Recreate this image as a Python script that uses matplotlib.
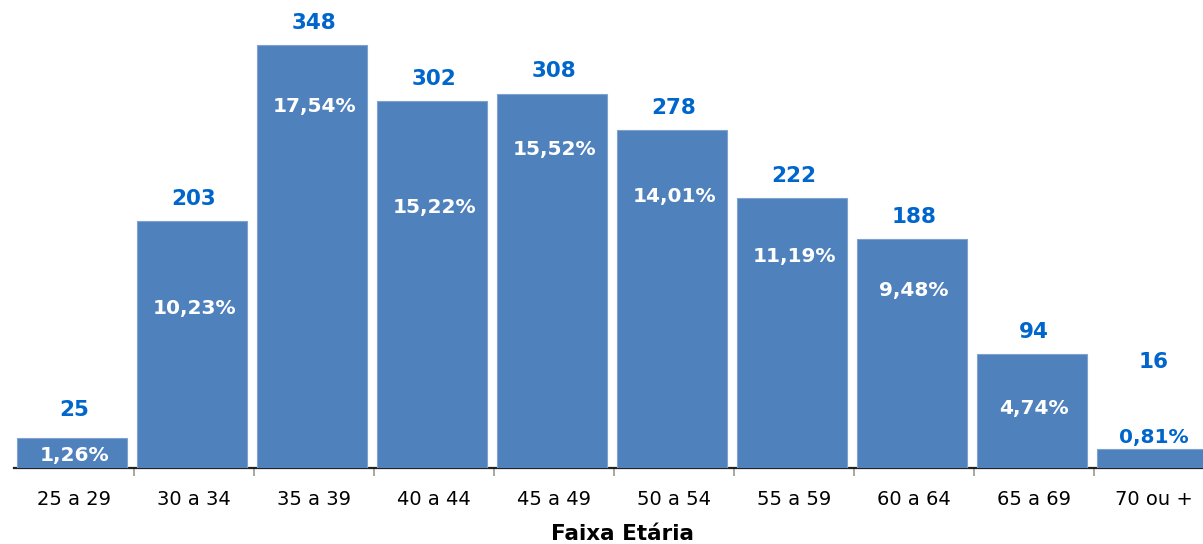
import matplotlib.pyplot as plt
import numpy as np

plt.rcParams['font.family'] = ['DejaVu Sans']

# data
faixas = ["25 a 29", "30 a 34", "35 a 39", "40 a 44", "45 a 49",
          "50 a 54", "55 a 59", "60 a 64", "65 a 69", "70 ou +"]
totais = [25, 203, 348, 302, 308, 278, 222, 188, 94, 16]
percentuais = ["1,26%", "10,23%", "17,54%", "15,22%", "15,52%",
               "14,01%", "11,19%", "9,48%", "4,74%", "0,81%"]
# where the percent labels sit (value units)
pct_y = [10, 131, 297, 214, 262, 223, 174, 146, 49, 25]

bar_color = "#4F81BD"
label_blue = "#0066CC"

fig = plt.figure(figsize=(12.03, 5.44), dpi=100)
ax = fig.add_axes([14 / 1203, 76 / 544, 1200 / 1203, 437.6 / 544])

x = np.arange(len(faixas))
ax.bar(x - 0.015, totais, width=0.915, color=bar_color,
       edgecolor="#7fa2cf", linewidth=0.8, zorder=3)

ax.set_xlim(-0.5, len(faixas) - 0.5)
ax.set_ylim(0, 360)

# totals above the bars
for xi, v in zip(x, totais):
    off = 16 if v != 16 else 62
    if v == 25:
        off = 20
    ax.annotate(str(v), (xi, v), xytext=(0, off), textcoords="offset points",
                ha="center", va="center", fontsize=15.5, fontweight="bold",
                color=label_blue)

# percentages
for xi, v, p, py in zip(x, totais, percentuais, pct_y):
    cor = "white" if py < v else label_blue
    ax.text(xi, py, p, ha="center", va="center", fontsize=14.5,
            fontweight="bold", color=cor, zorder=4)

# axis styling
for s in ["left", "right", "top"]:
    ax.spines[s].set_visible(False)
ax.spines["bottom"].set_color("#222222")
ax.spines["bottom"].set_linewidth(1.6)
ax.spines["bottom"].set_zorder(2)
ax.set_yticks([])
ax.set_xticks(x)
ax.set_xticklabels(faixas, fontsize=14)
ax.tick_params(axis="x", which="major", length=0, pad=16)
ax.set_xticks(np.arange(0.5, len(faixas) - 1), minor=True)
ax.tick_params(axis="x", which="minor", length=6, width=1.2, color="#999999")
ax.set_xlabel("Faixa Etária", fontsize=15.5, fontweight="bold")
ax.xaxis.set_label_coords(0.507, -0.128)

fig.savefig("out.png", dpi=100)
